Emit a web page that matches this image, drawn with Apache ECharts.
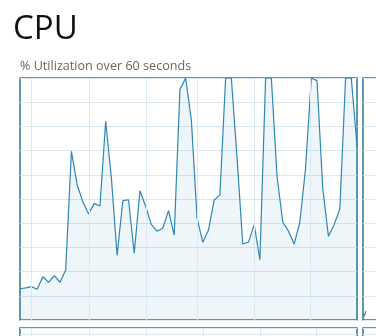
<!DOCTYPE html>
<html>
<head>
<meta charset="utf-8">
<script src="https://cdn.jsdelivr.net/npm/echarts@6/dist/echarts.min.js"></script>
<style>
  html, body { margin: 0; padding: 0; background: #fff; }
  #chart { width: 376px; height: 336px; }
</style>
</head>
<body>
<div id="chart"></div>
<script>
// Main panel: CPU utilisation (%) for each of the 60 seconds
const cpuValues = [12.9, 13.3, 13.8, 12.7, 17.9, 15.6, 18.3, 15.6, 20.7, 69.7,
  55.9, 48.9, 43.8, 48.2, 47.1, 82.1, 58.7, 26.7, 49.3, 49.7,
  27.6, 53.4, 47.0, 39.4, 36.7, 37.9, 45.2, 35.1, 95.2, 100,
  82.6, 42.1, 32.1, 37.2, 49.6, 51.7, 100, 100, 66.9, 31.4,
  32.2, 39.4, 24.9, 100, 100, 59.4, 40.5, 36.7, 31.4, 40.5,
  62.8, 100, 98.9, 54.5, 34.6, 39.4, 46.0, 100, 100, 71.9];
// Neighbouring panel (only its first seconds are visible)
const cpu2Values = [2.5, 1.6, 3.7];
// Vertical grid line positions (in seconds) for the panels
const mainGridSeconds = [2.05, 12.13, 22.18, 31.08, 41.0, 50.86];
const lowerGridSeconds = [2.05, 12.13, 22.18, 32.1, 42.0, 51.9];
const titleText = 'CPU';
const subtitleText = '% Utilization over 60 seconds';

const BORDER = '#2b7590';
const LINE = '#2f86b4';
const GRIDC = '#d9e8f2';
const FILL = 'rgba(17,125,187,0.07)';

const chart = echarts.init(document.getElementById('chart'), null, { renderer: 'canvas' });

const panels = [
  { left: 20, top: 78 },
  { left: 363, top: 78 },
  { left: 20, top: 328 },
  { left: 363, top: 328 }
];
const grids = panels.map(p => ({
  left: p.left, top: p.top, width: 337, height: 242,
  show: true, borderColor: BORDER, borderWidth: 1.5, backgroundColor: 'transparent',
  containLabel: false
}));
const xAxes = panels.map((p, i) => ({
  type: 'value', gridIndex: i, min: 0, max: 59,
  axisLine: { show: false }, axisTick: { show: false }, axisLabel: { show: false },
  splitLine: { show: false }
}));
const yAxes = panels.map((p, i) => ({
  type: 'value', gridIndex: i, min: 0, max: 100, interval: 10,
  axisLine: { show: false }, axisTick: { show: false }, axisLabel: { show: false },
  splitLine: { show: true, lineStyle: { color: GRIDC, width: 1 } }
}));

function gridSeries(idx, secs) {
  return {
    type: 'line', xAxisIndex: idx, yAxisIndex: idx, data: [], z: 1, silent: true,
    markLine: {
      symbol: 'none', silent: true, animation: false,
      label: { show: false },
      lineStyle: { color: GRIDC, width: 1, type: 'solid' },
      data: secs.map(s => ({ xAxis: s }))
    }
  };
}
function dataSeries(idx, values) {
  return {
    type: 'line', xAxisIndex: idx, yAxisIndex: idx, z: 3,
    data: values.map((v, i) => [i, v]),
    symbol: 'none', smooth: false, clip: true,
    lineStyle: { color: LINE, width: 1.2 },
    areaStyle: { color: FILL, opacity: 1 }
  };
}

chart.setOption({
  animation: false,
  backgroundColor: '#ffffff',
  grid: grids,
  xAxis: xAxes,
  yAxis: yAxes,
  graphic: [
    { type: 'text', left: 13, top: 13, style: { text: titleText, font: '33px "Open Sans"', fill: '#111' } },
    { type: 'text', left: 20, top: 60, style: { text: subtitleText, font: '12.6px "Open Sans"', fill: '#666' } }
  ],
  series: [
    gridSeries(0, mainGridSeconds),
    dataSeries(0, cpuValues),
    gridSeries(1, []),
    dataSeries(1, cpu2Values),
    gridSeries(2, lowerGridSeconds),
    gridSeries(3, [])
  ]
});
</script>
</body>
</html>
